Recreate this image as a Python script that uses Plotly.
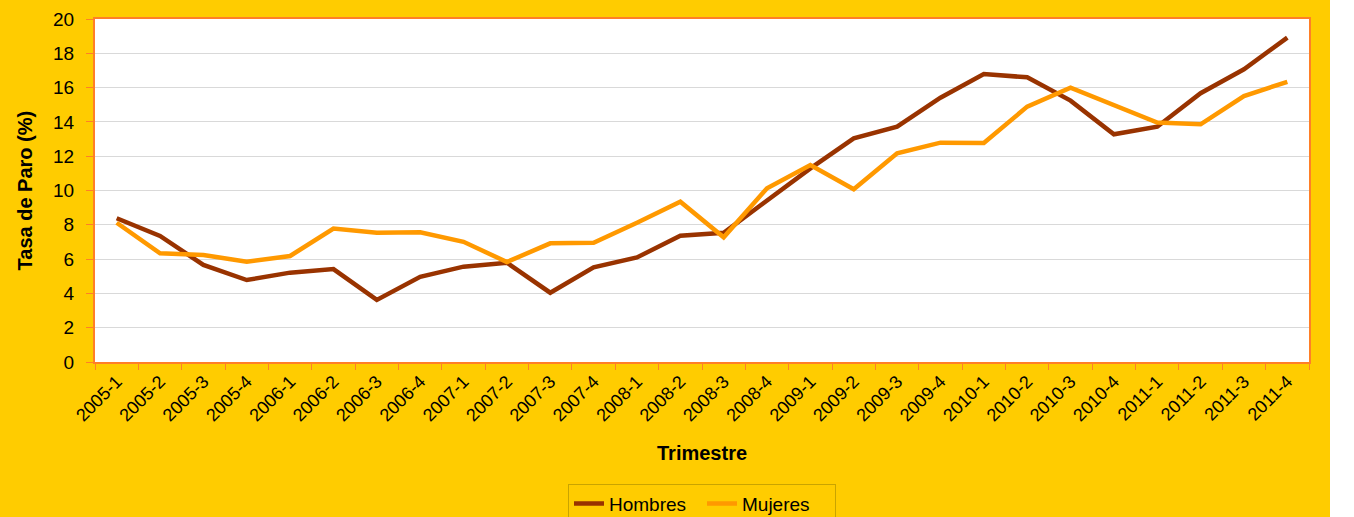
import plotly.graph_objects as go

trimestres = ["2005-1", "2005-2", "2005-3", "2005-4", "2006-1", "2006-2", "2006-3", "2006-4",
              "2007-1", "2007-2", "2007-3", "2007-4", "2008-1", "2008-2", "2008-3", "2008-4",
              "2009-1", "2009-2", "2009-3", "2009-4", "2010-1", "2010-2", "2010-3", "2010-4",
              "2011-1", "2011-2", "2011-3", "2011-4"]

hombres = [8.38, 7.35, 5.66, 4.78, 5.21, 5.42, 3.62, 4.97,
           5.56, 5.79, 4.04, 5.52, 6.10, 7.36, 7.54, 9.45,
           11.29, 13.04, 13.72, 15.41, 16.79, 16.60, 15.24, 13.28,
           13.72, 15.67, 17.07, 18.91]

mujeres = [8.12, 6.34, 6.24, 5.85, 6.18, 7.78, 7.54, 7.56,
           7.01, 5.83, 6.92, 6.95, 8.12, 9.35, 7.27, 10.13,
           11.49, 10.07, 12.17, 12.79, 12.77, 14.89, 16.00, 14.99,
           13.96, 13.86, 15.51, 16.34]

FONT = "Liberation Sans, Arial, sans-serif"
YELLOW = "#FFCC00"
BORDER = "#FF7F27"

fig = go.Figure()
fig.add_trace(go.Scatter(x=trimestres, y=hombres, name="Hombres", mode="lines",
                         line=dict(color="#993300", width=4.5)))
fig.add_trace(go.Scatter(x=trimestres, y=mujeres, name="Mujeres", mode="lines",
                         line=dict(color="#FF9900", width=4.5)))

fig.add_shape(type="rect", xref="paper", yref="paper", x0=1.0173, x1=1.2, y0=-1, y1=2,
              fillcolor="white", line=dict(width=0), layer="below")

fig.add_annotation(text="<b>Trimestre</b>", xref="paper", yref="paper", x=0.5, y=-0.265,
                   xanchor="center", yanchor="middle", showarrow=False,
                   font=dict(size=20, family=FONT, color="black"))
fig.add_annotation(text="<b>Tasa de Paro (%)</b>", xref="paper", yref="paper", x=-0.0577, y=0.5,
                   xanchor="center", yanchor="middle", showarrow=False, textangle=-90,
                   font=dict(size=20, family=FONT, color="black"))

fig.update_layout(
    width=1354, height=517,
    margin=dict(l=95, r=45, t=19, b=155, autoexpand=False),
    paper_bgcolor=YELLOW, plot_bgcolor="white",
    font=dict(family=FONT, color="black", size=18),
    showlegend=True,
    legend=dict(orientation="h", x=0.5, xanchor="center", y=-0.355, yanchor="top",
                bgcolor=YELLOW, bordercolor="#C9A400", borderwidth=1,
                font=dict(size=19, family=FONT), entrywidth=88),
    xaxis=dict(
        type="category", tickangle=-45, tickfont=dict(size=18, family=FONT),
        showgrid=False, showline=True, linecolor=BORDER, linewidth=2, mirror=True,
        ticks="outside", tickson="boundaries", ticklen=6, tickcolor=BORDER,
        range=[-0.5, 27.5],
    ),
    yaxis=dict(
        range=[0, 20], dtick=2, tickfont=dict(size=19, family=FONT),
        showgrid=True, gridcolor="#D9D9D9", gridwidth=1,
        showline=True, linecolor=BORDER, linewidth=2, mirror=True,
        ticks="outside", ticklen=7, tickcolor=BORDER, zeroline=False,
        ticklabelstandoff=8,
    ),
)

fig.write_html("out.html", config={"displayModeBar": False},
               post_script="document.body.style.margin='0';")
